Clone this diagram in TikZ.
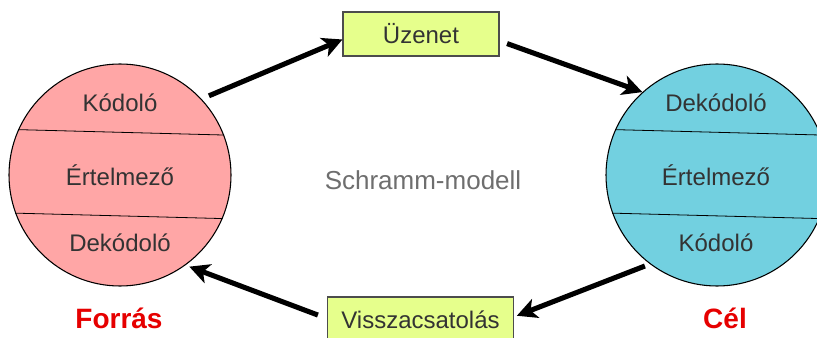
\documentclass[tikz,border=0pt]{standalone}
\usepackage{fontspec}
\setmainfont{Liberation Sans}
\usetikzlibrary{arrows.meta}

\definecolor{srcfill}{RGB}{255,166,166}
\definecolor{dstfill}{RGB}{114,208,224}
\definecolor{msgfill}{RGB}{230,255,140}
\definecolor{txtgray}{RGB}{51,51,51}
\definecolor{labred}{RGB}{230,0,0}

\begin{document}
\begin{tikzpicture}[
    x=0.75pt, y=-0.75pt,
    party/.style={circle, draw=black, line width=0.8pt, minimum size=166.5pt, inner sep=0pt},
    part/.style={font=\fontsize{18}{20}\selectfont, text=txtgray, inner sep=0pt},
    msgbox/.style={draw=black!70, line width=0.8pt, fill=msgfill, inner sep=0pt, font=\fontsize{18}{20}\selectfont, text=txtgray},
    role/.style={font=\fontsize{21}{24}\selectfont\bfseries, text=labred, inner sep=0pt},
    arrow/.style={-{Stealth[length=15pt, width=15pt, inset=4pt]}, line width=3.8pt, black}
]
\clip (0,0) rectangle (817,338);

\node[party, fill=srcfill] (source) at (120,175) {};
\node[party, fill=dstfill] (target) at (717,175) {};

\draw[line width=0.6pt] (source.156.6) -- (source.21.1);
\draw[line width=0.6pt] (source.200) -- (source.337.8);
\draw[line width=0.6pt] (target.156.6) -- (target.21.1);
\draw[line width=0.6pt] (target.200) -- (target.337.8);

\node[part] (srcenc) at (120,103) {Kódoló};
\node[part] (srcint) at (120,175) {Értelmező};
\node[part] (srcdec) at (120,243) {Dekódoló};
\node[part] (dstdec) at (716,103) {Dekódoló};
\node[part] (dstint) at (716,175) {Értelmező};
\node[part] (dstenc) at (716,243) {Kódoló};

\node[msgbox, minimum width=117pt, minimum height=33pt] (message) at (421,34) {Üzenet};
\node[msgbox, minimum width=140pt, minimum height=34.5pt] (feedback) at (420.5,320) {Visszacsatolás};

\node[font=\fontsize{19.5}{22}\selectfont, text=black!57, inner sep=0pt] (title) at (423,180) {Schramm-modell};

\node[role] (srclabel) at (119,318) {Forrás};
\node[role] (dstlabel) at (725,318) {Cél};

\draw[arrow, shorten <=6pt] (source.43) -- (message.184);
\draw[arrow, shorten <=6pt] (message.-5) -- (target.132);
\draw[arrow, shorten <=4pt, shorten >=2pt] (target.233) -- (feedback.2);
\draw[arrow, shorten <=7pt, shorten >=3pt] (feedback.179) -- (source.306);
\end{tikzpicture}
\end{document}
